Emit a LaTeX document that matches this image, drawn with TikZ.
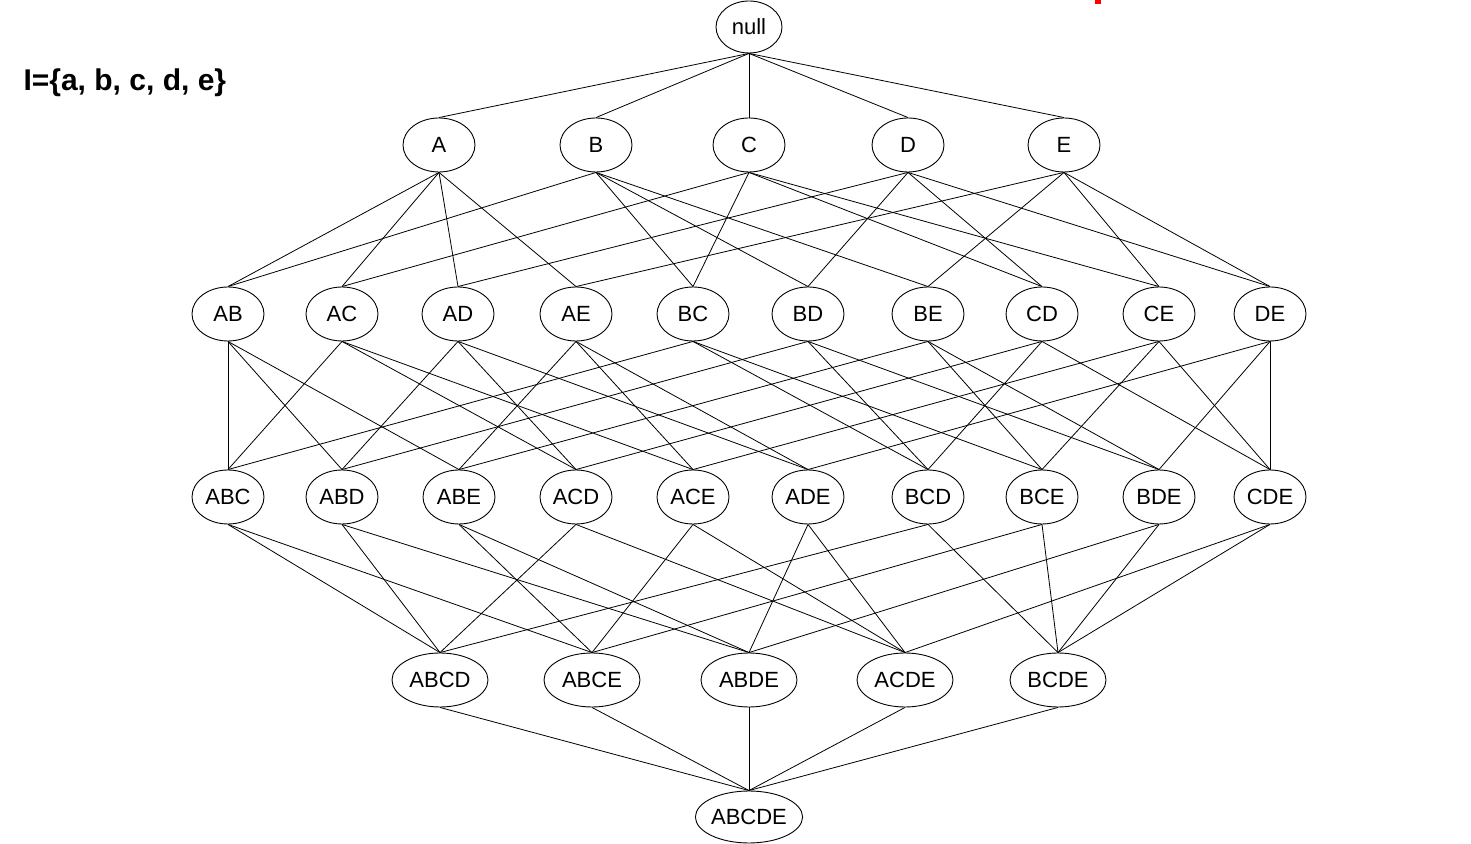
\documentclass[tikz,border=0pt]{standalone}
\usepackage{fontspec}
\setmainfont{Liberation Sans}
\usetikzlibrary{shapes.geometric}
\begin{document}
\begin{tikzpicture}[x=1pt,y=1pt,
  lat/.style={ellipse, draw, line width=0.9pt, inner sep=0pt, minimum width=72, minimum height=54, font=\fontsize{22}{22}\selectfont},
  wide/.style={lat, minimum width=96},
  edge/.style={line width=0.8pt}]
\useasboundingbox (0,0) rectangle (1471,843);
\fill[red] (1095,843) rectangle (1101,839);
\node[anchor=west, font=\fontsize{30}{30}\selectfont\bfseries] (title) at (20,760) {I=\{a, b, c, d, e\}};
% levels
\node[lat, minimum width=66, minimum height=52] (null) at (749,816) {null};
\foreach \n/\x in {A/439,B/596,C/749,D/908,E/1064} \node[lat] (\n) at (\x,698) {\n};
\foreach \n/\x in {AB/228,AC/342,AD/458,AE/576,BC/693,BD/808,BE/928,CD/1042,CE/1159,DE/1270} \node[lat] (\n) at (\x,529) {\n};
\foreach \n/\x in {ABC/228,ABD/342,ABE/459,ACD/576,ACE/693,ADE/808,BCD/928,BCE/1042,BDE/1159,CDE/1270} \node[lat] (\n) at (\x,346) {\n};
\foreach \n/\x in {ABCD/440,ABCE/592,ABDE/749,ACDE/905,BCDE/1058} \node[wide] (\n) at (\x,163) {\n};
\node[lat, minimum width=104, minimum height=52] (ABCDE) at (749,26) {ABCDE};
% edges
\foreach \t in {A,B,C,D,E} \draw[edge] (null.south) -- (\t.north);
\foreach \t/\l in {AB/{A,B},AC/{A,C},AD/{A,D},AE/{A,E},BC/{B,C},BD/{B,D},BE/{B,E},CD/{C,D},CE/{C,E},DE/{D,E}}
  \foreach \s in \l \draw[edge] (\s.south) -- (\t.north);
\foreach \t/\l in {ABC/{AB,AC,BC},ABD/{AB,AD,BD},ABE/{AB,AE,BE},ACD/{AC,AD,CD},ACE/{AC,AE,CE},ADE/{AD,AE,DE},BCD/{BC,BD,CD},BCE/{BC,BE,CE},BDE/{BD,BE,DE},CDE/{CD,CE,DE}}
  \foreach \s in \l \draw[edge] (\s.south) -- (\t.north);
\foreach \t/\l in {ABCD/{ABC,ABD,ACD,BCD},ABCE/{ABC,ABE,ACE,BCE},ABDE/{ABD,ABE,ADE,BDE},ACDE/{ACD,ACE,ADE,CDE},BCDE/{BCD,BCE,BDE,CDE}}
  \foreach \s in \l \draw[edge] (\s.south) -- (\t.north);
\foreach \s in {ABCD,ABCE,ABDE,ACDE,BCDE} \draw[edge] (\s.south) -- (ABCDE.north);
\end{tikzpicture}
\end{document}
